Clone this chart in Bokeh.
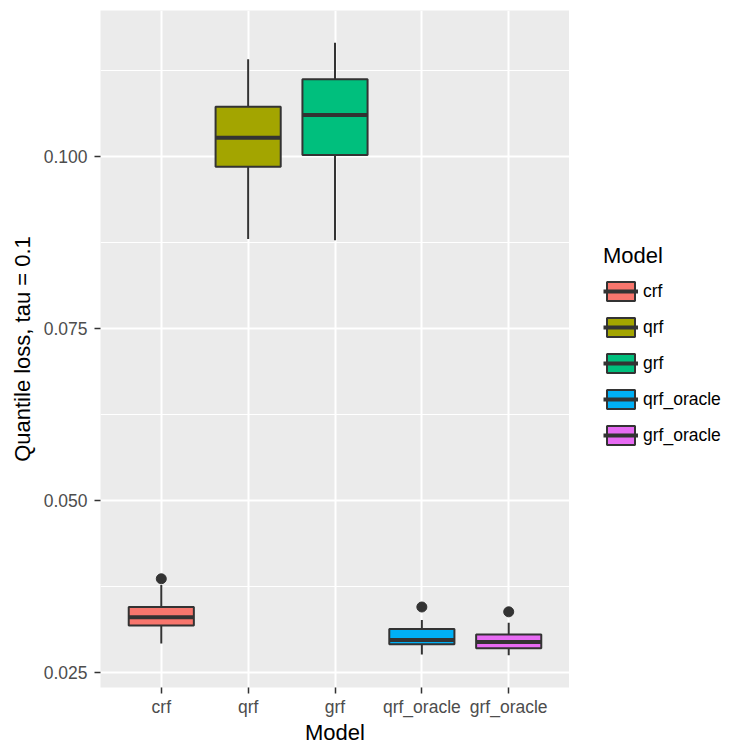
from bokeh.plotting import figure
from bokeh.layouts import row
from bokeh.models import (ColumnDataSource, FactorRange, Range1d, FixedTicker,
                          PrintfTickFormatter, Legend, LegendItem)
from bokeh.transform import dodge
from bokeh.embed import file_html
from bokeh.resources import INLINE

# ---- data ----
categories = ["crf", "qrf", "grf", "qrf_oracle", "grf_oracle"]
colors = ["#F8766D", "#A3A500", "#00BF7D", "#00B0F6", "#E76BF3"]
lower = [0.0292, 0.0880, 0.0878, 0.0276, 0.0275]
q1 = [0.0318, 0.0985, 0.1002, 0.0291, 0.0285]
median = [0.0330, 0.1027, 0.1060, 0.0297, 0.0294]
q3 = [0.0345, 0.1072, 0.1112, 0.0313, 0.0305]
upper = [0.0377, 0.1141, 0.1165, 0.0326, 0.0322]
out_cat = ["crf", "qrf_oracle", "grf_oracle"]
out_val = [0.0386, 0.0345, 0.0338]
y_ticks = [0.025, 0.050, 0.075, 0.100]
y_minor = [0.0375, 0.0625, 0.0875, 0.1125]

FONT = "Liberation Sans"
DARK = "#333333"

src = ColumnDataSource(dict(cat=categories, color=colors, lower=lower, q1=q1,
                            median=median, q3=q3, upper=upper))
osrc = ColumnDataSource(dict(cat=out_cat, val=out_val))

p = figure(frame_width=469, frame_height=677,
           x_range=FactorRange(*categories, range_padding=0.2, range_padding_units="absolute"),
           y_range=Range1d(0.0228, 0.1212),
           output_backend="svg", toolbar_location=None,
           min_border_left=100, min_border_right=0, min_border_top=10, min_border_bottom=63)

p.background_fill_color = "#EBEBEB"
p.border_fill_color = "white"
p.outline_line_color = None

p.xgrid.grid_line_color = "white"
p.xgrid.grid_line_width = 2
p.ygrid.grid_line_color = "white"
p.ygrid.grid_line_width = 2
p.ygrid.minor_grid_line_color = "white"
p.ygrid.minor_grid_line_width = 1

p.yaxis.ticker = FixedTicker(ticks=y_ticks, minor_ticks=y_minor)
p.yaxis.formatter = PrintfTickFormatter(format="%.3f")

for ax in (p.xaxis[0], p.yaxis[0]):
    ax.axis_line_color = None
    ax.major_tick_line_color = DARK
    ax.major_tick_line_width = 1.5
    ax.major_tick_out = 6
    ax.major_tick_in = 0
    ax.minor_tick_line_color = None
    ax.major_label_text_font = FONT
    ax.major_label_text_font_size = "17.5px"
    ax.major_label_text_color = "#4D4D4D"
    ax.axis_label_text_font = FONT
    ax.axis_label_text_font_size = "22px"
    ax.axis_label_text_font_style = "normal"
    ax.axis_label_text_color = "black"

p.xaxis.major_label_standoff = 3
p.yaxis.major_label_standoff = 7
p.xaxis.axis_label_standoff = 0
p.yaxis.axis_label_standoff = 6
p.xaxis.axis_label = "Model"
p.yaxis.axis_label = "Quantile loss, tau = 0.1"

# whiskers
p.segment(x0="cat", y0="lower", x1="cat", y1="q1", source=src, line_color=DARK, line_width=2)
p.segment(x0="cat", y0="q3", x1="cat", y1="upper", source=src, line_color=DARK, line_width=2)
# boxes
p.vbar(x="cat", top="q3", bottom="q1", width=0.75, source=src,
       fill_color="color", line_color=DARK, line_width=2)
# medians
p.segment(x0=dodge("cat", -0.375, range=p.x_range), y0="median",
          x1=dodge("cat", 0.375, range=p.x_range), y1="median",
          source=src, line_color=DARK, line_width=4)
# outliers
p.scatter(x="cat", y="val", source=osrc, size=10, fill_color=DARK, line_color=DARK)

# ---- legend panel: a separate figure whose ranges never show its glyphs ----
lf = figure(width=181, height=750, x_range=FactorRange("none"), y_range=Range1d(0.5, 0.6),
            x_axis_type=None, y_axis_type=None, output_backend="svg", toolbar_location=None,
            min_border=0)
lf.outline_line_color = None
lf.xgrid.visible = False
lf.ygrid.visible = False
lf.background_fill_color = "white"
box_r = lf.vbar(x="cat", top="q3", bottom="q1", width=0.75, source=src,
                fill_color="color", line_color=DARK, line_width=2)
med_r = lf.segment(x0="cat", y0="median", x1="cat", y1="median",
                   source=src, line_color=DARK, line_width=4)

items = [LegendItem(label=c, renderers=[box_r, med_r], index=i) for i, c in enumerate(categories)]
legend = Legend(items=items, title="Model", location=(34, 240))
legend.title_text_font = FONT
legend.title_text_font_size = "22px"
legend.title_text_font_style = "normal"
legend.title_text_color = "black"
legend.title_standoff = 10
legend.label_text_font = FONT
legend.label_text_font_size = "17.5px"
legend.label_text_color = "black"
legend.glyph_width = 35
legend.glyph_height = 24
legend.spacing = 12
legend.label_standoff = 5
legend.padding = 0
legend.margin = 0
legend.border_line_color = None
legend.background_fill_alpha = 0
lf.add_layout(legend)

layout = row(p, lf)
open("out.html", "w").write(file_html(layout, INLINE))
